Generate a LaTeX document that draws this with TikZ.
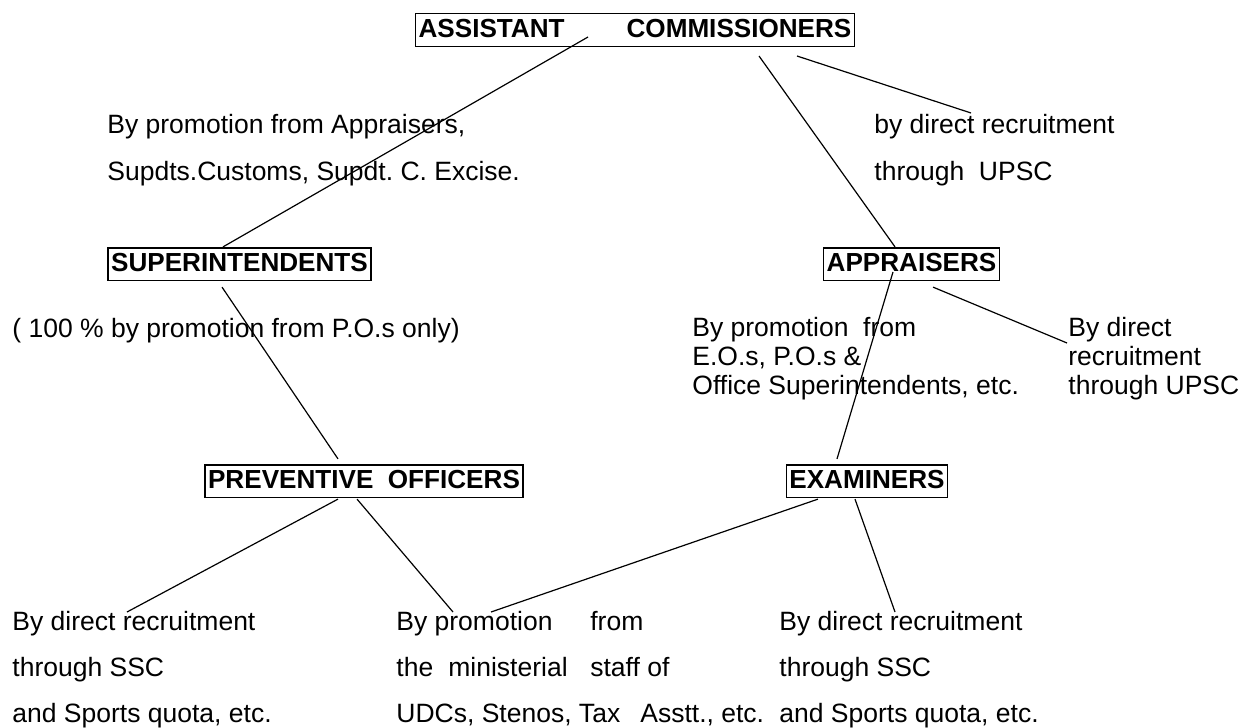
\documentclass[tikz,border=0pt]{standalone}
\usepackage{fontspec}
\setmainfont{Liberation Sans}
\usetikzlibrary{calc}
\frenchspacing

\begin{document}
\begin{tikzpicture}[x=0.5bp, y=-0.5bp,
  rank/.style={rectangle, draw, line width=0.8bp, inner xsep=1.5bp, inner ysep=0pt, text height=11.8bp, text depth=4.5bp, font=\fontsize{13.1}{15}\selectfont\bfseries},
  note/.style={anchor=north west, inner sep=0pt, align=left, font=\fontsize{13.3}{#1}\selectfont\frenchspacing},
  note/.default=15,
  link/.style={line width=0.6bp}
]
  \useasboundingbox (0,0) rectangle (1248,727);

  % ranks
  \node[rank] (top) at (635,30) {ASSISTANT\hspace{31bp}COMMISSIONERS};
  \node[rank] (sup) at (239.5,264) {SUPERINTENDENTS};
  \node[rank] (app) at (911.5,264) {APPRAISERS};
  \node[rank] (po) at (364,481) {PREVENTIVE\ \ OFFICERS};
  \node[rank] (exa) at (867,481) {EXAMINERS};

  % modes of entry
  \node[note=23.5] (acprom) at (107,114) {By promotion from Appraisers,\\Supdts.Customs, Supdt. C. Excise.};
  \node[note=23.5] (acdirect) at (874,114) {by direct recruitment\\through\ \ UPSC};
  \node[note] (supprom) at (12,318) {( 100 \% by promotion from P.O.s only)};
  \node[note=14.5] (appprom) at (692,317) {By promotion\ \ from\\E.O.s, P.O.s \&\\Office Superintendents, etc.};
  \node[note=14.5] (appdirect) at (1068,317) {By direct\\recruitment\\through UPSC};
  \node[note=23] (podirect) at (12,611) {By direct recruitment\\through SSC\\and Sports quota, etc.};
  \node[note=23] (minist) at (396,611) {\makebox[97bp][l]{By promotion}from\\
    \makebox[26bp][l]{the}\makebox[71bp][l]{ministerial}staff of\\
    \makebox[122bp][l]{UDCs, Stenos, Tax}Asstt., etc.};
  \node[note=23] (exdirect) at (779,611) {By direct recruitment\\through SSC\\and Sports quota, etc.};

  % connectors
  \draw[link] ($(top.center)+(-47,7)$) -- ($(sup.north)+(-16.5,0)$);
  \draw[link] ($(top.center)+(124,26)$) -- ($(app.north)+(-16.5,0)$);
  \draw[link] ($(top.center)+(162,26)$) -- ($(acdirect.north west)+(97,-1)$);
  \draw[link] ($(sup.south)+(-17.5,6)$) -- ($(po.north)+(-26,-5)$);
  \draw[link] ($(app.center)+(-18.5,8)$) -- ($(exa.north)+(-30,-5)$);
  \draw[link] ($(app.south)+(21.5,6)$) -- ($(appdirect.north west)+(-1,26)$);
  \draw[link] ($(po.south)+(-26,1)$) -- ($(podirect.north west)+(115,1)$);
  \draw[link] ($(po.south)+(-7,1)$) -- ($(minist.north west)+(57,1)$);
  \draw[link] ($(exa.south)+(-49,1)$) -- ($(minist.north west)+(95,1)$);
  \draw[link] ($(exa.south)+(-12,1)$) -- ($(exdirect.north west)+(116,1)$);
\end{tikzpicture}
\end{document}
